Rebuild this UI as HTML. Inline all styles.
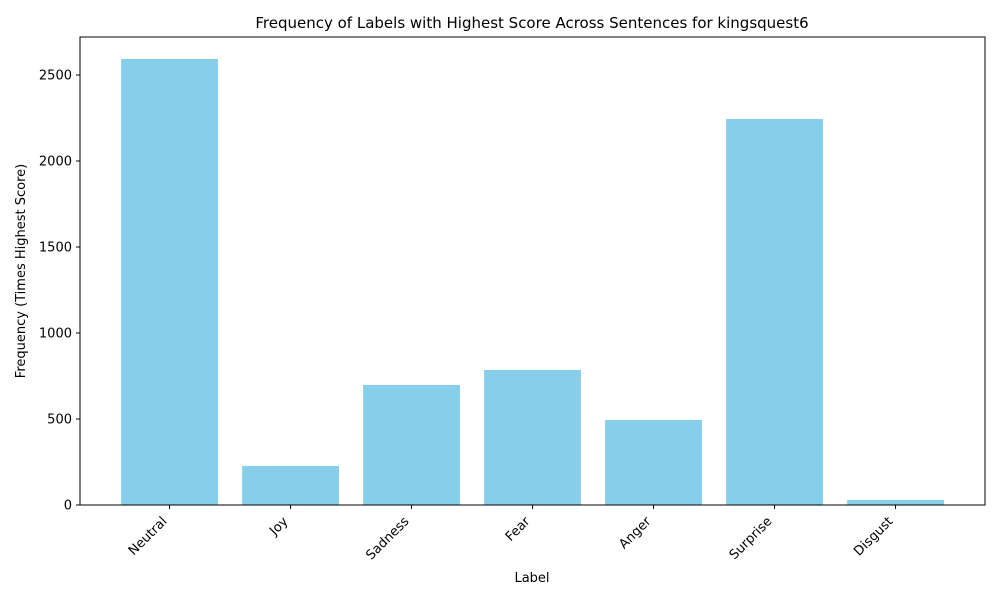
<!DOCTYPE html>
<html><head><meta charset="utf-8"><style>
body{margin:0;background:#fff;}
svg text{font-family:"DejaVu Sans","Liberation Sans",sans-serif;fill:#000;}
</style></head><body>
<svg id="chart" width="1000" height="600" xmlns="http://www.w3.org/2000/svg">
<rect width="1000" height="600" fill="#fff"/>
<text x="532" y="28" font-size="15" text-anchor="middle">Frequency of Labels with Highest Score Across Sentences for kingsquest6</text>
<g id="bars"></g><g id="yaxis"></g><g id="xaxis"></g>
<rect x="80" y="37" width="905" height="468" fill="none" stroke="#000" stroke-width="1"/>
<text x="532" y="582" font-size="13" text-anchor="middle">Label</text>
<text transform="translate(25,271) rotate(-90)" font-size="13" text-anchor="middle">Frequency (Times Highest Score)</text>
</svg>
<script>
const categories=["Neutral","Joy","Sadness","Fear","Anger","Surprise","Disgust"];
const values=[2593,227,698,785,494,2244,29];
const yTicks=[0,500,1000,1500,2000,2500];
const NS="http://www.w3.org/2000/svg";
function y(v){return 505-v*0.172;}
function x(i){return 80+(i+0.74)*121;}
const bars=document.getElementById('bars'),ya=document.getElementById('yaxis'),xa=document.getElementById('xaxis');
function mk(t,a,p){const e=document.createElementNS(NS,t);for(const k in a)e.setAttribute(k,a[k]);p.appendChild(e);return e;}
categories.forEach((c,i)=>{
 const r=mk('rect',{x:x(i)-48.4,y:y(values[i]),width:96.8,height:505-y(values[i]),fill:'#87ceeb'},bars);
 
 
 mk('line',{x1:x(i),x2:x(i),y1:505,y2:509,stroke:'#000'},xa);
 const t=mk('text',{x:0,y:0,'font-size':13,'text-anchor':'end',transform:`translate(${x(i)-2},${522}) rotate(-45)`},xa);
 t.textContent=c;
 
 
});
yTicks.forEach(v=>{
 mk('line',{x1:76,x2:80,y1:y(v),y2:y(v),stroke:'#000'},ya);
 const t=mk('text',{x:72,y:y(v)+4.5,'font-size':13,'text-anchor':'end'},ya);
 t.textContent=v;
 
 
});
</script>
</body></html>
